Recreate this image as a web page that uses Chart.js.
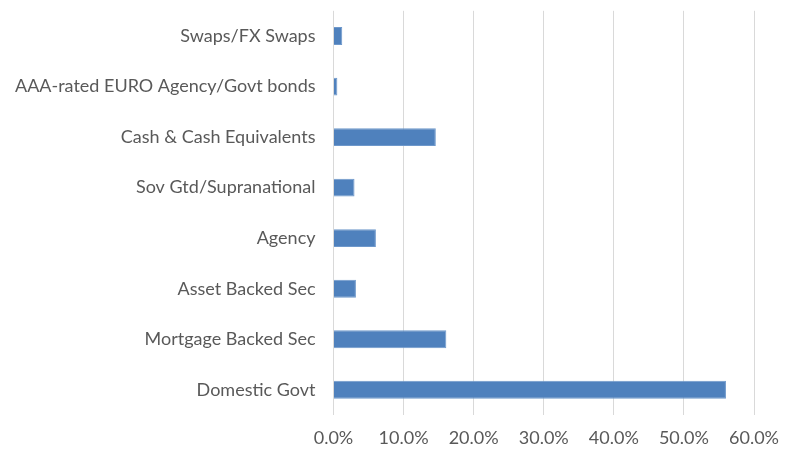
<!DOCTYPE html>
<html>
<head>
<meta charset="utf-8">
<script src="https://cdn.jsdelivr.net/npm/chart.js@4.4.0/dist/chart.umd.min.js"></script>
<style>
html,body{margin:0;padding:0;background:#fff;}
#wrap{width:796px;height:450px;position:relative;}
</style>
</head>
<body>
<div id="wrap"><canvas id="c" width="796" height="450"></canvas></div>
<script>
const categories = [
  "Swaps/FX Swaps",
  "AAA-rated EURO Agency/Govt bonds",
  "Cash & Cash Equivalents",
  "Sov Gtd/Supranational",
  "Agency",
  "Asset Backed Sec",
  "Mortgage Backed Sec",
  "Domestic Govt"
];
const allocation = [1.25, 0.55, 14.6, 3.0, 6.05, 3.2, 16.1, 56.0];
const xTicks = [0, 10, 20, 30, 40, 50, 60];

const FONT = "Lato, 'Open Sans', sans-serif";
const TEXT = "#595959";

new Chart(document.getElementById('c'), {
  type: 'bar',
  data: {
    labels: categories,
    datasets: [{
      data: allocation,
      backgroundColor: '#4F81BD',
      borderColor: '#6E98CB',
      borderWidth: 1,
      barPercentage: 0.7,
      categoryPercentage: 0.506
    }]
  },
  options: {
    indexAxis: 'y',
    responsive: false,
    animation: false,
    layout: { padding: { top: 8, right: 42, bottom: 0, left: 0 } },
    plugins: { legend: { display: false }, tooltip: { enabled: false } },
    scales: {
      x: {
        min: 0, max: 60,
        afterBuildTicks: (s) => { s.ticks = xTicks.map(v => ({ value: v })); },
        afterFit: (s) => { s.height = 35; },
        grid: { color: '#D9D9D9', lineWidth: 1, drawTicks: true, tickLength: 12, tickColor: 'rgba(0,0,0,0)' },
        border: { display: false },
        ticks: {
          color: TEXT,
          font: { family: FONT, size: 18 },
          padding: 0,
          callback: (v) => Number(v).toFixed(1) + '%'
        }
      },
      y: {
        grid: { display: true, color: 'rgba(0,0,0,0)', drawTicks: true, tickLength: 18, tickColor: 'rgba(0,0,0,0)' },
        border: { display: false },
        afterFit: (s) => { s.width = 333.5; },
        ticks: {
          color: TEXT,
          font: { family: FONT, size: 18 },
          padding: 0
        }
      }
    }
  }
});
</script>
</body>
</html>
